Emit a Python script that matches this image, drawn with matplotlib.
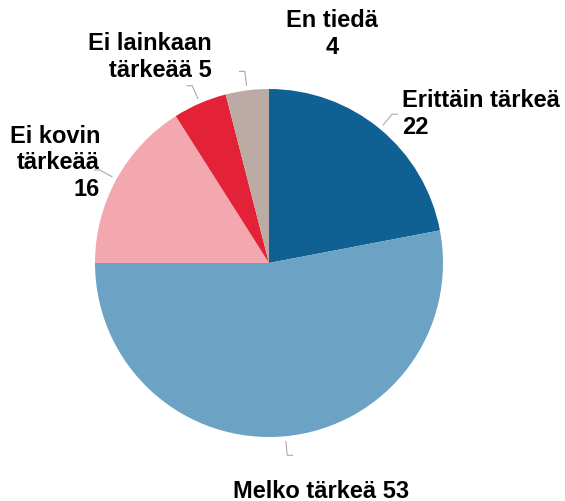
import matplotlib
matplotlib.use("Agg")
import matplotlib.pyplot as plt
import numpy as np

categories = ["Erittäin tärkeä", "Melko tärkeä", "Ei kovin tärkeää", "Ei lainkaan tärkeää", "En tiedä"]
values = [22, 53, 16, 5, 4]
labels = ["Erittäin tärkeä\n22", "Melko tärkeä 53", "Ei kovin\ntärkeää\n16", "Ei lainkaan\ntärkeää 5", "En tiedä\n4"]
colors = ["#0f6193", "#6ca2c3", "#f2a8ae", "#e32237", "#bcaba5"]

plt.rcParams['font.family'] = ['Liberation Sans', 'DejaVu Sans']

W, H = 565, 502
fig = plt.figure(figsize=(W / 100, H / 100), dpi=100)
cx, cy, R = 269, 264, 174
ax = fig.add_axes([(cx - R) / W, (H - cy - R) / H, 2 * R / W, 2 * R / H])
wedges, _ = ax.pie(values, colors=colors, startangle=90, counterclock=False,
                   radius=1, wedgeprops=dict(linewidth=0))
ax.set_xlim(-1, 1)
ax.set_ylim(-1, 1)
ax.set_aspect('equal')
ax.axis('off')

# label placement (pixel coords) and alignment
text_pos = [(402, 114, 'left', 'center'),
            (321, 492, 'center', 'center'),
            (100, 163, 'right', 'center'),
            (212, 57, 'right', 'center'),
            (332, 34, 'center', 'center')]
tick_dir = [1, 1, -1, -1, -1]

def px2data(x, y):
    return (x - cx) / R, (cy - y) / R

for w, lab, (tx, ty, ha, va), d in zip(wedges, labels, text_pos, tick_dir):
    ang = np.deg2rad((w.theta1 + w.theta2) / 2)
    r0, r1 = 1.03, 1.11
    x0, y0 = r0 * np.cos(ang), r0 * np.sin(ang)
    x1, y1 = r1 * np.cos(ang), r1 * np.sin(ang)
    x2 = x1 + d * 0.03
    ax.plot([x0, x1, x2], [y0, y1, y1], color="#aaaaaa", lw=0.8, clip_on=False)
    dx, dy = px2data(tx, ty)
    ax.text(dx, dy, lab, ha=ha, va=va, fontsize=17, fontweight='bold',
            multialignment=ha, linespacing=1.2, clip_on=False)

fig.savefig("out.png", dpi=100)
